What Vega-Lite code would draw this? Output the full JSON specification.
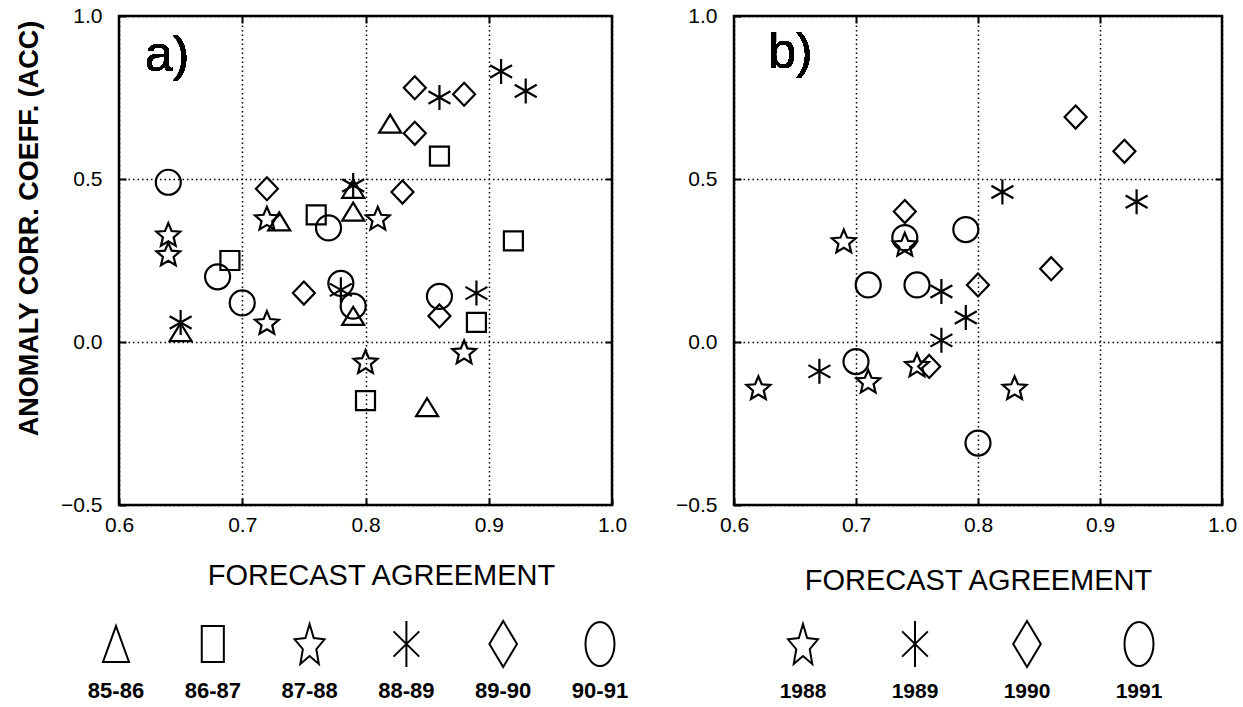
{
  "$schema": "https://vega.github.io/schema/vega-lite/v6.json",
  "background": "white",
  "padding": {"left": 14, "top": 3, "right": 6, "bottom": 9},
  "config": {
    "font": "Liberation Sans",
    "view": {"stroke": "black", "strokeWidth": 2.5},
    "axis": {
      "grid": true, "gridColor": "black", "gridDash": [1.5, 3], "gridWidth": 1.5, "gridOpacity": 1,
      "domain": false, "tickColor": "black", "tickSize": -7, "tickWidth": 2,
      "labelColor": "black", "labelFont": "Liberation Sans", "labelFontSize": 21,
      "labelOverlap": false, "labelFlush": false, "labelBound": false,
      "titleColor": "black", "titleFont": "Liberation Sans"
    }
  },
  "datasets": {
    "a": [
      {"fa": 0.82, "acc": 0.67, "s": "85-86"},
      {"fa": 0.79, "acc": 0.47, "s": "85-86"},
      {"fa": 0.73, "acc": 0.37, "s": "85-86"},
      {"fa": 0.79, "acc": 0.40, "s": "85-86"},
      {"fa": 0.65, "acc": 0.03, "s": "85-86"},
      {"fa": 0.79, "acc": 0.08, "s": "85-86"},
      {"fa": 0.85, "acc": -0.20, "s": "85-86"},
      {"fa": 0.86, "acc": 0.57, "s": "86-87"},
      {"fa": 0.76, "acc": 0.39, "s": "86-87"},
      {"fa": 0.69, "acc": 0.25, "s": "86-87"},
      {"fa": 0.92, "acc": 0.31, "s": "86-87"},
      {"fa": 0.89, "acc": 0.06, "s": "86-87"},
      {"fa": 0.80, "acc": -0.18, "s": "86-87"},
      {"fa": 0.72, "acc": 0.38, "s": "87-88"},
      {"fa": 0.81, "acc": 0.38, "s": "87-88"},
      {"fa": 0.64, "acc": 0.33, "s": "87-88"},
      {"fa": 0.64, "acc": 0.27, "s": "87-88"},
      {"fa": 0.72, "acc": 0.06, "s": "87-88"},
      {"fa": 0.88, "acc": -0.03, "s": "87-88"},
      {"fa": 0.80, "acc": -0.06, "s": "87-88"},
      {"fa": 0.91, "acc": 0.83, "s": "88-89"},
      {"fa": 0.93, "acc": 0.77, "s": "88-89"},
      {"fa": 0.86, "acc": 0.75, "s": "88-89"},
      {"fa": 0.79, "acc": 0.48, "s": "88-89"},
      {"fa": 0.65, "acc": 0.06, "s": "88-89"},
      {"fa": 0.78, "acc": 0.16, "s": "88-89"},
      {"fa": 0.89, "acc": 0.15, "s": "88-89"},
      {"fa": 0.84, "acc": 0.78, "s": "89-90"},
      {"fa": 0.88, "acc": 0.76, "s": "89-90"},
      {"fa": 0.84, "acc": 0.64, "s": "89-90"},
      {"fa": 0.72, "acc": 0.47, "s": "89-90"},
      {"fa": 0.83, "acc": 0.46, "s": "89-90"},
      {"fa": 0.75, "acc": 0.15, "s": "89-90"},
      {"fa": 0.86, "acc": 0.08, "s": "89-90"},
      {"fa": 0.64, "acc": 0.49, "s": "90-91"},
      {"fa": 0.77, "acc": 0.35, "s": "90-91"},
      {"fa": 0.68, "acc": 0.20, "s": "90-91"},
      {"fa": 0.70, "acc": 0.12, "s": "90-91"},
      {"fa": 0.78, "acc": 0.18, "s": "90-91"},
      {"fa": 0.79, "acc": 0.11, "s": "90-91"},
      {"fa": 0.86, "acc": 0.14, "s": "90-91"}
    ],
    "b": [
      {"fa": 0.69, "acc": 0.31, "s": "1988"},
      {"fa": 0.74, "acc": 0.30, "s": "1988"},
      {"fa": 0.75, "acc": -0.07, "s": "1988"},
      {"fa": 0.71, "acc": -0.12, "s": "1988"},
      {"fa": 0.62, "acc": -0.14, "s": "1988"},
      {"fa": 0.83, "acc": -0.14, "s": "1988"},
      {"fa": 0.82, "acc": 0.46, "s": "1989"},
      {"fa": 0.93, "acc": 0.43, "s": "1989"},
      {"fa": 0.77, "acc": 0.155, "s": "1989"},
      {"fa": 0.79, "acc": 0.075, "s": "1989"},
      {"fa": 0.77, "acc": 0.005, "s": "1989"},
      {"fa": 0.67, "acc": -0.09, "s": "1989"},
      {"fa": 0.88, "acc": 0.69, "s": "1990"},
      {"fa": 0.92, "acc": 0.585, "s": "1990"},
      {"fa": 0.74, "acc": 0.40, "s": "1990"},
      {"fa": 0.86, "acc": 0.225, "s": "1990"},
      {"fa": 0.80, "acc": 0.175, "s": "1990"},
      {"fa": 0.76, "acc": -0.075, "s": "1990"},
      {"fa": 0.74, "acc": 0.32, "s": "1991"},
      {"fa": 0.79, "acc": 0.345, "s": "1991"},
      {"fa": 0.71, "acc": 0.175, "s": "1991"},
      {"fa": 0.75, "acc": 0.175, "s": "1991"},
      {"fa": 0.70, "acc": -0.06, "s": "1991"},
      {"fa": 0.80, "acc": -0.31, "s": "1991"}
    ],
    "legA": [
      {"label": "85-86"}, {"label": "86-87"}, {"label": "87-88"},
      {"label": "88-89"}, {"label": "89-90"}, {"label": "90-91"}
    ],
    "legB": [
      {"label": "1988"}, {"label": "1989"}, {"label": "1990"}, {"label": "1991"}
    ]
  },
  "bounds": "flush",
  "columns": 2,
  "spacing": {"row": 109, "column": 122},
  "resolve": {"scale": {"shape": "independent", "x": "independent", "y": "independent"}},
  "concat": [
    {
      "width": 493,
      "height": 489,
      "data": {"name": "a"},
      "resolve": {"axis": {"x": "independent", "y": "independent"}},
      "layer": [
        {
          "mark": {"type": "point", "filled": false, "color": "black", "strokeWidth": 2.2, "size": 625, "opacity": 1},
          "encoding": {
            "x": {"field": "fa", "type": "quantitative",
              "scale": {"domain": [0.6, 1.0], "nice": false, "zero": false},
              "axis": {"values": [0.6, 0.7, 0.8, 0.9, 1.0], "format": ".1f", "labelPadding": 16,
                "title": "FORECAST AGREEMENT", "titleFontSize": 29, "titleFontWeight": "normal", "titlePadding": 26, "titleX": 262}},
            "y": {"field": "acc", "type": "quantitative",
              "scale": {"domain": [-0.5, 1.0], "nice": false, "zero": false},
              "axis": {"values": [-0.5, 0, 0.5, 1.0], "format": ".1f", "labelPadding": 24,
                "title": "ANOMALY CORR. COEFF. (ACC)", "titleFontSize": 27, "titleFontWeight": "bold", "titlePadding": 17, "titleY": 212}},
            "shape": {"field": "s", "type": "nominal", "legend": null,
              "scale": {"domain": ["85-86", "86-87", "87-88", "88-89", "89-90", "90-91"],
                "range": [
                  "M0,-0.72L0.88,0.72L-0.88,0.72Z",
                  "M-0.76,-0.76H0.76V0.76H-0.76Z",
                  "M0,-0.905L0.265,-0.269L0.951,-0.214L0.428,0.234L0.588,0.904L0,0.545L-0.588,0.904L-0.428,0.234L-0.951,-0.214L-0.265,-0.269Z",
                  "M0,-1L0,1M-0.88,-0.5L0.88,0.5M-0.88,0.5L0.88,-0.5",
                  "M0,-0.92L0.88,0L0,0.92L-0.88,0Z",
                  "circle"
                ]}}
          }
        },
        {
          "mark": {"type": "point", "opacity": 0},
          "encoding": {
            "x": {"field": "fa", "type": "quantitative",
              "axis": {"orient": "top", "values": [0.7, 0.8, 0.9], "labels": false, "grid": false, "title": null}},
            "y": {"field": "acc", "type": "quantitative",
              "axis": {"orient": "right", "values": [0, 0.5], "labels": false, "grid": false, "title": null}}
          }
        },
        {
          "mark": {"type": "text", "text": "a)", "align": "left", "baseline": "alphabetic", "fontSize": 50, "font": "Liberation Sans", "color": "black"},
          "encoding": {
            "x": {"datum": 0.621, "type": "quantitative", "axis": null},
            "y": {"datum": 0.832, "type": "quantitative", "axis": null}
          }
        }
      ]
    },
    {
      "width": 488,
      "height": 489,
      "data": {"name": "b"},
      "resolve": {"axis": {"x": "independent", "y": "independent"}},
      "layer": [
        {
          "mark": {"type": "point", "filled": false, "color": "black", "strokeWidth": 2.2, "size": 625, "opacity": 1},
          "encoding": {
            "x": {"field": "fa", "type": "quantitative",
              "scale": {"domain": [0.6, 1.0], "nice": false, "zero": false},
              "axis": {"values": [0.6, 0.7, 0.8, 0.9, 1.0], "format": ".1f", "labelPadding": 16,
                "title": "FORECAST AGREEMENT", "titleFontSize": 29, "titleFontWeight": "normal", "titlePadding": 31}},
            "y": {"field": "acc", "type": "quantitative",
              "scale": {"domain": [-0.5, 1.0], "nice": false, "zero": false},
              "axis": {"values": [-0.5, 0, 0.5, 1.0], "format": ".1f", "labelPadding": 24, "title": null}},
            "shape": {"field": "s", "type": "nominal", "legend": null,
              "scale": {"domain": ["1988", "1989", "1990", "1991"],
                "range": [
                  "M0,-0.905L0.265,-0.269L0.951,-0.214L0.428,0.234L0.588,0.904L0,0.545L-0.588,0.904L-0.428,0.234L-0.951,-0.214L-0.265,-0.269Z",
                  "M0,-1L0,1M-0.88,-0.5L0.88,0.5M-0.88,0.5L0.88,-0.5",
                  "M0,-0.92L0.88,0L0,0.92L-0.88,0Z",
                  "circle"
                ]}}
          }
        },
        {
          "mark": {"type": "point", "opacity": 0},
          "encoding": {
            "x": {"field": "fa", "type": "quantitative",
              "axis": {"orient": "top", "values": [0.7, 0.8, 0.9], "labels": false, "grid": false, "title": null}},
            "y": {"field": "acc", "type": "quantitative",
              "axis": {"orient": "right", "values": [0, 0.5], "labels": false, "grid": false, "title": null}}
          }
        },
        {
          "mark": {"type": "text", "text": "b)", "align": "left", "baseline": "alphabetic", "fontSize": 50, "font": "Liberation Sans", "color": "black"},
          "encoding": {
            "x": {"datum": 0.628, "type": "quantitative", "axis": null},
            "y": {"datum": 0.84, "type": "quantitative", "axis": null}
          }
        }
      ]
    },
    {
      "width": 493,
      "height": 60,
      "view": {"stroke": null},
      "data": {"name": "legA"},
      "layer": [
        {
          "mark": {"type": "point", "filled": false, "color": "black", "strokeWidth": 2, "size": 2116, "opacity": 1},
          "encoding": {
            "x": {"field": "label", "type": "nominal", "axis": null,
              "scale": {"type": "point", "padding": 0, "domain": ["85-86", "86-87", "87-88", "88-89", "89-90", "90-91"], "range": [-3, 481]}},
            "shape": {"field": "label", "type": "nominal", "legend": null,
              "scale": {"domain": ["85-86", "86-87", "87-88", "88-89", "89-90", "90-91"],
                "range": [
                  "M0,-0.78L0.565,0.78L-0.565,0.78Z",
                  "M-0.48,-0.78H0.48V0.78H-0.48Z",
                  "M0,-0.869L0.181,-0.258L0.65,-0.205L0.293,0.225L0.402,0.868L0,0.523L-0.402,0.868L-0.293,0.225L-0.65,-0.205L-0.181,-0.258Z",
                  "M0,-1L0,1M-0.56,-0.55L0.56,0.55M-0.56,0.55L0.56,-0.55",
                  "M0,-1L0.6,0L0,1L-0.6,0Z",
                  "M-0.63,0A0.63,0.96,0,1,0,0.63,0A0.63,0.96,0,1,0,-0.63,0Z"
                ]}}
          }
        },
        {
          "mark": {"type": "text", "dy": 47, "fontSize": 22, "fontWeight": "bold", "font": "Liberation Sans", "baseline": "middle", "color": "black"},
          "encoding": {
            "x": {"field": "label", "type": "nominal", "axis": null,
              "scale": {"type": "point", "padding": 0, "domain": ["85-86", "86-87", "87-88", "88-89", "89-90", "90-91"], "range": [-3, 481]}},
            "text": {"field": "label"}
          }
        }
      ]
    },
    {
      "width": 488,
      "height": 60,
      "view": {"stroke": null},
      "data": {"name": "legB"},
      "layer": [
        {
          "mark": {"type": "point", "filled": false, "color": "black", "strokeWidth": 2, "size": 2116, "opacity": 1},
          "encoding": {
            "x": {"field": "label", "type": "nominal", "axis": null,
              "scale": {"type": "point", "padding": 0, "domain": ["1988", "1989", "1990", "1991"], "range": [69, 405]}},
            "shape": {"field": "label", "type": "nominal", "legend": null,
              "scale": {"domain": ["1988", "1989", "1990", "1991"],
                "range": [
                  "M0,-0.869L0.181,-0.258L0.65,-0.205L0.293,0.225L0.402,0.868L0,0.523L-0.402,0.868L-0.293,0.225L-0.65,-0.205L-0.181,-0.258Z",
                  "M0,-1L0,1M-0.56,-0.55L0.56,0.55M-0.56,0.55L0.56,-0.55",
                  "M0,-1L0.6,0L0,1L-0.6,0Z",
                  "M-0.63,0A0.63,0.96,0,1,0,0.63,0A0.63,0.96,0,1,0,-0.63,0Z"
                ]}}
          }
        },
        {
          "mark": {"type": "text", "dy": 48, "fontSize": 21, "fontWeight": "bold", "font": "Liberation Sans", "baseline": "middle", "color": "black"},
          "encoding": {
            "x": {"field": "label", "type": "nominal", "axis": null,
              "scale": {"type": "point", "padding": 0, "domain": ["1988", "1989", "1990", "1991"], "range": [69, 405]}},
            "text": {"field": "label"}
          }
        }
      ]
    }
  ]
}
